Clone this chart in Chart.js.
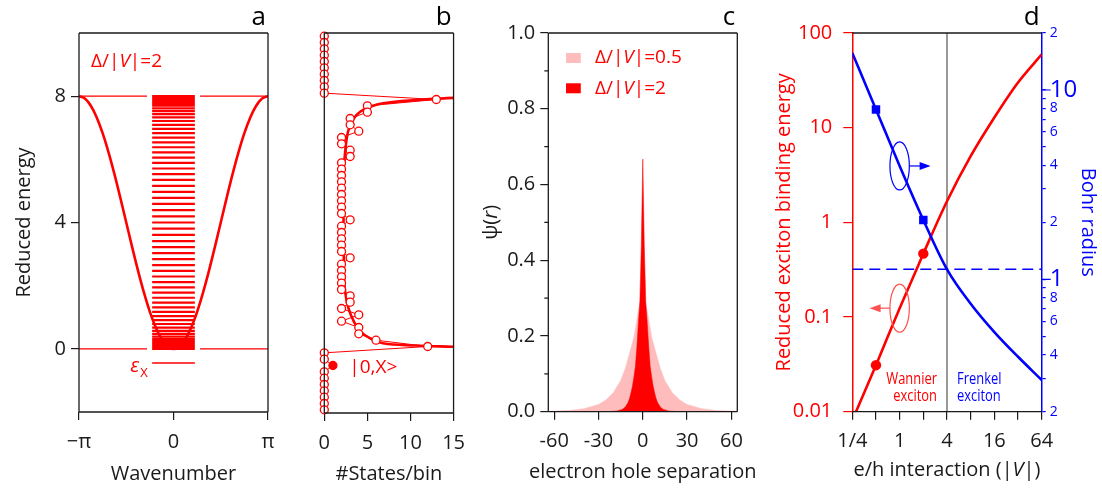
<!DOCTYPE html>
<html>
<head>
<meta charset="utf-8">
<script src="https://cdn.jsdelivr.net/npm/chart.js@4.4.0/dist/chart.umd.min.js"></script>
<style>
  body { margin: 0; background: #fff; }
  #wrap { position: relative; width: 1102px; height: 489px; }
  canvas { position: absolute; top: 0; }
</style>
</head>
<body>
<div id="wrap">
  <canvas id="chartA" width="290" height="489" style="left:0px"></canvas>
  <canvas id="chartB" width="185" height="489" style="left:290px"></canvas>
  <canvas id="chartC" width="290" height="489" style="left:470px"></canvas>
  <canvas id="chartD" width="342" height="489" style="left:760px"></canvas>
</div>
<script>
// ---------- panel a : band + discrete levels ----------
const bandK = [-1, -0.9375, -0.875, -0.8125, -0.75, -0.6875, -0.625, -0.5625, -0.5, -0.4375, -0.375, -0.3125, -0.25, -0.1875, -0.125, -0.0625,
    0, 0.0625, 0.125, 0.1875, 0.25, 0.3125, 0.375, 0.4375, 0.5, 0.5625, 0.625, 0.6875, 0.75, 0.8125, 0.875, 0.9375, 1]; // units of pi
const bandE = [8, 7.923, 7.696, 7.326, 6.828, 6.222, 5.531, 4.780, 4, 3.220, 2.469, 1.778, 1.172, 0.674, 0.304, 0.077,
    0, 0.077, 0.304, 0.674, 1.172, 1.778, 2.469, 3.220, 4, 4.780, 5.531, 6.222, 6.828, 7.326, 7.696, 7.923, 8];
const levelE = [0, 0.005, 0.019, 0.043, 0.077, 0.120, 0.172, 0.234, 0.305, 0.384, 0.472, 0.569, 0.674, 0.787, 0.908, 1.036,
    1.172, 1.314, 1.462, 1.617, 1.778, 1.944, 2.114, 2.290, 2.469, 2.652, 2.839, 3.028, 3.220, 3.413, 3.608, 3.804, 4,
    4.196, 4.392, 4.587, 4.780, 4.972, 5.161, 5.348, 5.531, 5.710, 5.886, 6.056, 6.222, 6.383, 6.538, 6.686, 6.828,
    6.964, 7.092, 7.213, 7.326, 7.431, 7.528, 7.616, 7.696, 7.766, 7.828, 7.880, 7.923, 7.957, 7.981, 7.995, 8];
const bandEdges = [0, 8];
const excitonE = -0.45;
const levelHalfWidth = 0.71;
const edgeGap = 0.88;
const kTicks = [-Math.PI, 0, Math.PI];
const kTickLabels = ['\u2212\u03c0', '0', '\u03c0'];
const energyTicks = [0, 4, 8];

// ---------- panel b : states per bin ----------
const binE = [9.9, 9.7, 9.5, 9.3, 9.1, 8.9, 8.7, 8.5, 8.3, 8.1,
    7.9, 7.7, 7.5, 7.3, 7.1, 6.9, 6.7, 6.5, 6.3, 6.1, 5.9, 5.7, 5.5, 5.3, 5.1, 4.9, 4.7, 4.5, 4.3, 4.1,
    3.9, 3.7, 3.5, 3.3, 3.1, 2.9, 2.7, 2.5, 2.3, 2.1, 1.9, 1.7, 1.5, 1.3, 1.1, 0.9, 0.7, 0.5, 0.3, 0.1,
    -0.1, -0.3, -0.5, -0.7, -0.9, -1.1, -1.3, -1.5, -1.7, -1.9];
const binCount = [0, 0, 0, 0, 0, 0, 0, 0, 0, 0,
    13, 5, 5, 3, 3, 4, 2, 2, 3, 3, 2, 2, 2, 2, 2, 2, 2, 2, 2, 3,
    2, 2, 2, 2, 2, 3, 2, 2, 2, 2, 2, 3, 3, 2, 4, 2, 4, 4, 6, 12,
    0, 0, 1, 0, 0, 0, 0, 0, 0, 0];
const excitonBin = -0.5;
const dosCurveE = [7.95, 7.88, 7.78, 7.67, 7.52, 7.31, 6.99, 6.67, 6.25, 5.83, 5.2, 4.5, 4.0, 3.5, 2.8, 2.36, 1.83, 1.31, 0.885, 0.57, 0.36, 0.2, 0.13, 0.09];
const dosCurveN = [15, 10.6, 6.8, 5.33, 4.2, 3.44, 2.87, 2.6, 2.42, 2.3, 2.25, 2.23, 2.23, 2.24, 2.27, 2.3, 2.42, 2.8, 3.44, 4.2, 5.33, 6.8, 10.6, 15];
const countTicks = [0, 5, 10, 15];

// ---------- panel c : wavefunctions ----------
const sepWide = [-64, -50, -40, -30, -25, -20, -15, -12, -10, -8, -6, -4, -3, -2, -1, 0, 1, 2, 3, 4, 6, 8, 10, 12, 15, 20, 25, 30, 40, 50, 64];
const psiWide = [0.001, 0.003, 0.008, 0.019, 0.031, 0.05, 0.082, 0.113, 0.14, 0.168, 0.197, 0.243, 0.267, 0.285, 0.305, 0.352,
    0.305, 0.285, 0.267, 0.243, 0.197, 0.168, 0.14, 0.113, 0.082, 0.05, 0.031, 0.019, 0.008, 0.003, 0.001];
const sepNarrow = [-64, -25, -18, -14, -12, -10, -9, -8, -7, -6, -5, -4, -3, -2, -1, 0, 1, 2, 3, 4, 5, 6, 7, 8, 9, 10, 12, 14, 18, 25, 64];
const psiNarrow = [0, 0, 0.0015, 0.006, 0.012, 0.024, 0.035, 0.05, 0.068, 0.092, 0.12, 0.172, 0.235, 0.29, 0.44, 0.667,
    0.44, 0.29, 0.235, 0.172, 0.12, 0.092, 0.068, 0.05, 0.035, 0.024, 0.012, 0.006, 0.0015, 0, 0];
const sepTicks = [-60, -30, 0, 30, 60];
const psiTicks = [0, 0.2, 0.4, 0.6, 0.8, 1.0];
const psiMinor = [0.1, 0.3, 0.5, 0.7, 0.9];

// ---------- panel d : binding energy / Bohr radius ----------
const vValues = [0.25, 0.5, 1, 2, 4, 8, 16, 32, 64];
const bindingEnergy = [0.0081, 0.031, 0.124, 0.467, 1.67, 5.0, 12.8, 30, 59.4];
const bohrRadius = [15.7, 7.9, 3.97, 2.06, 1.13, 0.744, 0.527, 0.39, 0.294];
const markerV = [0.5, 2];
const crossoverV = 4;
const crossoverR = 1.13;
const vTicks = [0.25, 0.5, 1, 2, 4, 8, 16, 32, 64];
const vTickLabels = ['1/4', '', '1', '', '4', '', '16', '', '64'];
const ebTicks = [0.01, 0.1, 1, 10, 100];
const ebTickLabels = ['0.01', '0.1', '1', '10', '100'];
const rTicks = [0.2, 0.3, 0.4, 0.5, 0.6, 0.7, 0.8, 0.9, 1, 2, 3, 4, 5, 6, 7, 8, 9, 10, 20];
const rTickLabels = ['2', '', '4', '', '6', '', '8', '', '1', '2', '', '4', '', '6', '', '8', '', '10', '2'];

const RED = '#ff0000';
const PINK = '#ffbcbc';
const BLUE = '#0000ff';
const INK = '#1a1a1a';
const FONT = "'Open Sans', sans-serif";

Chart.defaults.font.family = FONT;
Chart.defaults.font.size = 20;
Chart.defaults.color = INK;
Chart.defaults.animation = false;
Chart.defaults.plugins.legend.display = false;
Chart.defaults.plugins.tooltip.enabled = false;

const pts = (xs, ys) => xs.map((x, i) => ({ x: x, y: ys[i] }));
const setTicks = list => scale => { scale.ticks = list.map(v => ({ value: v })); };

// text made of plain / italic pieces
function richText(ctx, parts, x, y, size, color, align) {
    ctx.save();
    ctx.fillStyle = color;
    ctx.textBaseline = 'middle';
    ctx.textAlign = 'left';
    const fonts = parts.map(p => (p[1] ? 'italic ' : '') + size + 'px ' + FONT);
    let w = 0;
    parts.forEach((p, i) => { ctx.font = fonts[i]; w += ctx.measureText(p[0]).width; });
    let cx = align === 'right' ? x - w : (align === 'center' ? x - w / 2 : x);
    parts.forEach((p, i) => {
        ctx.font = fonts[i];
        ctx.fillText(p[0], cx, y);
        cx += ctx.measureText(p[0]).width;
    });
    ctx.restore();
}

// condensed-looking text (no narrow font installed, so squeeze it)
function narrowText(ctx, text, x, y, color, align) {
    ctx.save();
    ctx.translate(x, y);
    ctx.scale(0.76, 1);
    ctx.font = '17px ' + FONT;
    ctx.fillStyle = color;
    ctx.textAlign = align;
    ctx.textBaseline = 'middle';
    ctx.fillText(text, 0, 0);
    ctx.restore();
}

// box around the plot area + panel letter
const framePlugin = {
    id: 'frame',
    afterDatasetsDraw(chart, args, o) {
        const { ctx, chartArea: a } = chart;
        const sides = o.sides || ['top', 'right', 'bottom', 'left'];
        ctx.save();
        ctx.strokeStyle = INK;
        ctx.lineWidth = 1.3;
        ctx.beginPath();
        if (sides.includes('top')) { ctx.moveTo(a.left, a.top); ctx.lineTo(a.right, a.top); }
        if (sides.includes('right')) { ctx.moveTo(a.right, a.top); ctx.lineTo(a.right, a.bottom); }
        if (sides.includes('bottom')) { ctx.moveTo(a.left, a.bottom); ctx.lineTo(a.right, a.bottom); }
        if (sides.includes('left')) { ctx.moveTo(a.left, a.top); ctx.lineTo(a.left, a.bottom); }
        ctx.stroke();
        if (o.tag) {
            ctx.fillStyle = '#000';
            ctx.font = '26px ' + FONT;
            ctx.textAlign = 'right';
            ctx.textBaseline = 'alphabetic';
            ctx.fillText(o.tag, a.right - 2, a.top - 8);
        }
        ctx.restore();
    }
};

// short extra ticks that chart.js has no option for
const minorTicksPlugin = {
    id: 'minorTicks',
    afterDraw(chart, args, o) {
        const ctx = chart.ctx;
        (o.list || []).forEach(m => {
            const s = chart.scales[m.axis];
            ctx.save();
            ctx.strokeStyle = m.color;
            ctx.lineWidth = 1.2;
            ctx.beginPath();
            m.values.forEach(v => {
                const p = s.getPixelForValue(v);
                if (s.position === 'left') { ctx.moveTo(s.right, p); ctx.lineTo(s.right - m.len, p); }
                else if (s.position === 'right') { ctx.moveTo(s.left, p); ctx.lineTo(s.left + m.len, p); }
                else { ctx.moveTo(p, s.top); ctx.lineTo(p, s.top + m.len); }
            });
            ctx.stroke();
            ctx.restore();
        });
    }
};

const tickGrid = (color, len) => ({ drawOnChartArea: false, tickLength: len, color: color, lineWidth: 1.2 });

// ---------------- panel a ----------------
const levelData = [];
levelE.forEach(e => {
    levelData.push({ x: -levelHalfWidth, y: e }, { x: levelHalfWidth, y: e }, { x: levelHalfWidth, y: null });
});
const edgeData = [];
bandEdges.forEach(e => {
    edgeData.push({ x: -Math.PI, y: e }, { x: -edgeGap, y: e }, { x: -edgeGap, y: null },
        { x: edgeGap, y: e }, { x: Math.PI, y: e }, { x: Math.PI, y: null });
});

const annotA = {
    id: 'annotA',
    afterDraw(chart) {
        const { ctx, scales: { x, y } } = chart;
        richText(ctx, [['\u0394/|', 0], ['V', 1], ['|=2', 0]], chart.chartArea.left + 12, y.getPixelForValue(9.1), 19, RED);
        const ex = x.getPixelForValue(-levelHalfWidth) - 22;
        const ey = y.getPixelForValue(excitonE);
        richText(ctx, [['\u03b5', 1]], ex, ey + 3, 20, RED);
        richText(ctx, [['X', 0]], ex + 10, ey + 10, 13, RED);
    }
};

new Chart(document.getElementById('chartA'), {
    type: 'line',
    data: {
        datasets: [
            { data: pts(bandK.map(k => k * Math.PI), bandE), borderColor: RED, borderWidth: 2.6, pointRadius: 0, cubicInterpolationMode: 'monotone' },
            { data: levelData, borderColor: RED, borderWidth: 2.2, pointRadius: 0, spanGaps: false },
            { data: edgeData, borderColor: RED, borderWidth: 1.2, pointRadius: 0, spanGaps: false },
            { data: [{ x: -levelHalfWidth, y: excitonE }, { x: levelHalfWidth, y: excitonE }], borderColor: RED, borderWidth: 1.6, pointRadius: 0 }
        ]
    },
    options: {
        responsive: false,
        layout: { padding: { top: 33, right: 22 } },
        scales: {
            x: {
                type: 'linear', min: -Math.PI, max: Math.PI,
                afterBuildTicks: setTicks(kTicks),
                ticks: { callback: (v, i) => kTickLabels[i], padding: 10, maxRotation: 0, autoSkip: false },
                grid: tickGrid(INK, 8), border: { display: false },
                title: { display: true, text: 'Wavenumber', padding: { bottom: 3 } },
                afterFit: s => { s.height = 77; }
            },
            y: {
                min: -2, max: 10,
                afterBuildTicks: setTicks(energyTicks),
                ticks: { padding: 5 },
                grid: tickGrid(INK, 8), border: { display: false },
                title: { display: true, text: 'Reduced energy', padding: { top: 12 } },
                afterFit: s => { s.width = 79; }
            }
        },
        plugins: { frame: { tag: 'a' } }
    },
    plugins: [framePlugin, annotA]
});

// ---------------- panel b ----------------
const annotB = {
    id: 'annotB',
    afterDraw(chart) {
        const { ctx, scales: { x, y } } = chart;
        richText(ctx, [['|0,X>', 0]], x.getPixelForValue(2.9), y.getPixelForValue(excitonBin) + 2, 19, RED);
    }
};

new Chart(document.getElementById('chartB'), {
    type: 'line',
    data: {
        datasets: [
            {
                data: pts(binCount, binE), borderColor: RED, borderWidth: 1, clip: false,
                pointRadius: 4, pointBorderWidth: 1.3, pointBorderColor: RED,
                pointBackgroundColor: binE.map(e => e === excitonBin ? RED : '#fff')
            },
            { data: pts(dosCurveN, dosCurveE), borderColor: RED, borderWidth: 2.6, pointRadius: 0, tension: 0.4 }
        ]
    },
    options: {
        responsive: false,
        layout: { padding: { top: 33, right: 18.3 } },
        scales: {
            x: {
                type: 'linear', min: 0, max: 15,
                afterBuildTicks: setTicks(countTicks),
                ticks: { padding: 10, maxRotation: 0 },
                grid: tickGrid(INK, 8), border: { display: false },
                title: { display: true, text: '#States/bin', padding: { bottom: 3 } },
                afterFit: s => { s.height = 76; }
            },
            y: {
                min: -2, max: 10,
                ticks: { display: false },
                grid: { display: false }, border: { display: false },
                afterFit: s => { s.width = 34.3; }
            }
        },
        plugins: { frame: { tag: 'b' } }
    },
    plugins: [framePlugin, annotB]
});

// ---------------- panel c ----------------
const annotC = {
    id: 'annotC',
    afterDraw(chart) {
        const { ctx, chartArea: a, scales: { x, y } } = chart;
        const sx = x.getPixelForValue(-52), sw = x.getPixelForValue(-42) - sx;
        [[0.934, PINK, '=0.5'], [0.854, RED, '=2']].forEach(row => {
            const py = y.getPixelForValue(row[0]);
            ctx.fillStyle = row[1];
            ctx.fillRect(sx, py - 5, sw, 10);
            richText(ctx, [['\u0394/|', 0], ['V', 1], ['|' + row[2], 0]], x.getPixelForValue(-32.4), py, 19, RED);
        });
        // axis titles drawn by hand: wider than the plot, italic r
        richText(ctx, [['electron hole separation', 0]], (a.left + a.right) / 2, 472, 20, INK, 'center');
        ctx.save();
        ctx.translate(a.left - 57, (a.top + a.bottom) / 2);
        ctx.rotate(-Math.PI / 2);
        richText(ctx, [['\u03c8(', 0], ['r', 1], [')', 0]], 0, 0, 20, INK, 'center');
        ctx.restore();
    }
};

new Chart(document.getElementById('chartC'), {
    type: 'line',
    data: {
        datasets: [
            { data: pts(sepNarrow, psiNarrow), borderColor: RED, borderWidth: 0.5, backgroundColor: RED, fill: 'origin', pointRadius: 0 },
            { data: pts(sepWide, psiWide), borderColor: PINK, borderWidth: 0.5, backgroundColor: PINK, fill: 'origin', pointRadius: 0 }
        ]
    },
    options: {
        responsive: false,
        layout: { padding: { top: 33, right: 22.7 } },
        scales: {
            x: {
                type: 'linear', min: -64, max: 64,
                afterBuildTicks: setTicks(sepTicks),
                ticks: { padding: 10, maxRotation: 0 },
                grid: tickGrid(INK, 8), border: { display: false },
                afterFit: s => { s.height = 77.3; }
            },
            y: {
                min: 0, max: 1,
                afterBuildTicks: setTicks(psiTicks),
                ticks: { callback: v => v.toFixed(1), padding: 5 },
                grid: tickGrid(INK, 8), border: { display: false },
                afterFit: s => { s.width = 78.3; }
            }
        },
        plugins: {
            frame: { tag: 'c' },
            minorTicks: { list: [{ axis: 'y', values: psiMinor, len: 4, color: INK }] }
        }
    },
    plugins: [framePlugin, minorTicksPlugin, annotC]
});

// ---------------- panel d ----------------
const isMarker = ctx => markerV.includes(vValues[ctx.dataIndex]);

const annotD = {
    id: 'annotD',
    afterDraw(chart) {
        const { ctx, chartArea: a, scales: { x, y, y2 } } = chart;
        const cx = x.getPixelForValue(1);
        const by = y2.getPixelForValue(bohrRadius[2]);
        const ry = y.getPixelForValue(bindingEnergy[2]);
        const arrow = (x0, x1, yy, color) => {
            const dir = Math.sign(x1 - x0);
            ctx.strokeStyle = color; ctx.fillStyle = color; ctx.lineWidth = 1.2;
            ctx.beginPath(); ctx.moveTo(x0, yy); ctx.lineTo(x1 - dir * 8, yy); ctx.stroke();
            ctx.beginPath(); ctx.moveTo(x1, yy); ctx.lineTo(x1 - dir * 11, yy - 4); ctx.lineTo(x1 - dir * 11, yy + 4); ctx.closePath(); ctx.fill();
        };
        ctx.save();
        ctx.lineWidth = 1.2;
        ctx.strokeStyle = BLUE;
        ctx.beginPath(); ctx.ellipse(cx, by, 9.7, 24, 0, 0, 2 * Math.PI); ctx.stroke();
        arrow(cx + 9.7, cx + 31, by, BLUE);
        ctx.strokeStyle = '#ff5050';
        ctx.beginPath(); ctx.ellipse(cx, ry, 9.7, 24, 0, 0, 2 * Math.PI); ctx.stroke();
        arrow(cx - 9.7, cx - 30, ry, '#ff5050');
        ctx.restore();

        const vx = x.getPixelForValue(crossoverV);
        const ty = a.bottom - 33;
        narrowText(ctx, 'Wannier', vx - 10, ty, RED, 'right');
        narrowText(ctx, 'exciton', vx - 10, ty + 17, RED, 'right');
        narrowText(ctx, 'Frenkel', vx + 10, ty, BLUE, 'left');
        narrowText(ctx, 'exciton', vx + 10, ty + 17, BLUE, 'left');

        richText(ctx, [['e/h interaction (|', 0], ['V', 1], ['|)', 0]], (a.left + a.right) / 2, 470, 20, INK, 'center');
    }
};

new Chart(document.getElementById('chartD'), {
    type: 'line',
    data: {
        datasets: [
            {
                data: pts(vValues, bohrRadius), yAxisID: 'y2', borderColor: BLUE, borderWidth: 2.6,
                cubicInterpolationMode: 'monotone', pointStyle: 'rect',
                pointRadius: ctx => isMarker(ctx) ? 6 : 0, pointBackgroundColor: BLUE, pointBorderWidth: 0
            },
            {
                data: pts(vValues, bindingEnergy), yAxisID: 'y', borderColor: RED, borderWidth: 2.6,
                cubicInterpolationMode: 'monotone',
                pointRadius: ctx => isMarker(ctx) ? 5.2 : 0, pointBackgroundColor: RED, pointBorderWidth: 0
            },
            {
                data: [{ x: vValues[0], y: crossoverR }, { x: vValues[vValues.length - 1], y: crossoverR }], yAxisID: 'y2',
                borderColor: BLUE, borderWidth: 1.5, borderDash: [11, 6], pointRadius: 0
            },
            {
                data: [{ x: crossoverV, y: ebTicks[0] }, { x: crossoverV, y: ebTicks[ebTicks.length - 1] }], yAxisID: 'y',
                borderColor: '#777', borderWidth: 1.5, pointRadius: 0
            }
        ]
    },
    options: {
        responsive: false,
        layout: { padding: { top: 33 } },
        scales: {
            x: {
                type: 'logarithmic', min: 0.25, max: 64,
                afterBuildTicks: setTicks(vTicks),
                ticks: { callback: (v, i) => vTickLabels[i], padding: 10, maxRotation: 0, autoSkip: false },
                grid: tickGrid(INK, 8), border: { display: false },
                afterFit: s => { s.height = 77.3; }
            },
            y: {
                type: 'logarithmic', position: 'left', min: 0.01, max: 100,
                afterBuildTicks: setTicks(ebTicks),
                ticks: { callback: (v, i) => ebTickLabels[i], color: RED, padding: 11, autoSkip: false },
                grid: tickGrid(RED, 9), border: { display: true, color: RED, width: 1.5 },
                title: { display: true, text: 'Reduced exciton binding energy', color: RED, padding: { top: 12 } },
                afterFit: s => { s.width = 92.3; }
            },
            y2: {
                type: 'logarithmic', position: 'right', min: 0.2, max: 20,
                afterBuildTicks: setTicks(rTicks),
                ticks: {
                    callback: (v, i) => rTickLabels[i], color: BLUE, padding: 4, autoSkip: false,
                    font: ctx => ({ size: ctx.tick && (ctx.tick.value === 1 || ctx.tick.value === 10) ? 24 : 14 })
                },
                grid: tickGrid(BLUE, 4), border: { display: true, color: BLUE, width: 1.5 },
                title: { display: true, text: 'Bohr radius', color: BLUE, padding: { top: 2 } },
                afterFit: s => { s.width = 60.3; }
            }
        },
        plugins: {
            frame: { sides: ['top', 'bottom'], tag: 'd' },
            minorTicks: { list: [{ axis: 'y2', values: [1, 10], len: 9, color: BLUE }] }
        }
    },
    plugins: [framePlugin, minorTicksPlugin, annotD]
});
</script>
</body>
</html>
